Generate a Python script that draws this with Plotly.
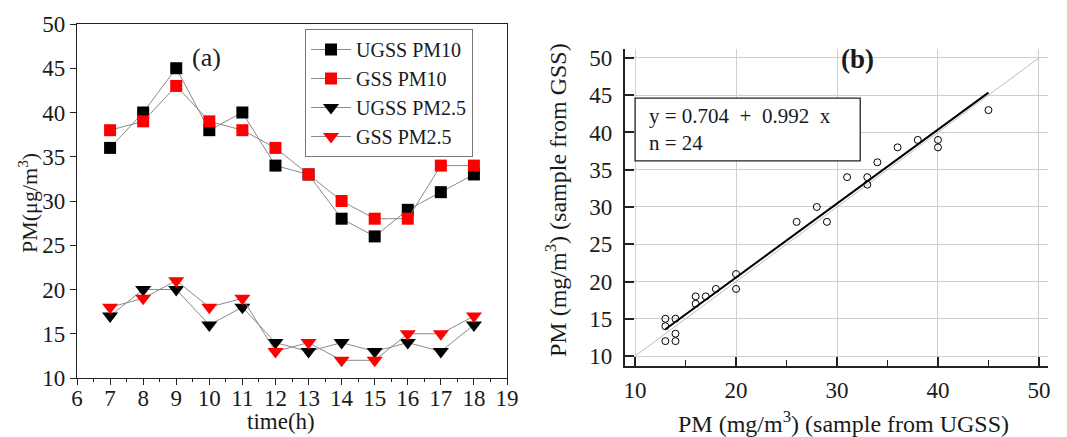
import plotly.graph_objects as go

# ---------------- data ----------------
hours = [7, 8, 9, 10, 11, 12, 13, 14, 15, 16, 17, 18]
ugss_pm10 = [36, 40, 45, 38, 40, 34, 33, 28, 26, 29, 31, 33]
gss_pm10 = [38, 39, 43, 39, 38, 36, 33, 30, 28, 28, 34, 34]
ugss_pm25 = [17, 20, 20, 16, 18, 14, 13, 14, 13, 14, 13, 16]
gss_pm25 = [18, 19, 21, 18, 19, 13, 14, 12, 12, 15, 15, 17]

fit_intercept = 0.704
fit_slope = 0.992
n_samples = 24

FONT = "Liberation Serif"
TXT = "#1a1a1a"
W, H = 1067, 437

fig = go.Figure()

# ---------------- panel (a) ----------------
series_a = [
    ("UGSS PM10", ugss_pm10, "square", "black", 12),
    ("GSS PM10", gss_pm10, "square", "red", 12),
    ("UGSS PM2.5", ugss_pm25, "triangle-down", "black", 14),
    ("GSS PM2.5", gss_pm25, "triangle-down", "red", 14),
]
for name, vals, sym, col, sz in series_a:
    fig.add_trace(go.Scatter(
        x=hours, y=vals, name=name, mode="lines+markers",
        line=dict(color="#8a8a8a", width=1),
        marker=dict(symbol=sym, color=col, size=sz, line=dict(width=0)),
        xaxis="x", yaxis="y", showlegend=True,
    ))

# ---------------- panel (b) ----------------
ugss_all = ugss_pm10 + ugss_pm25
gss_all = gss_pm10 + gss_pm25

fig.add_trace(go.Scatter(
    x=[10, 50], y=[10, 50], mode="lines",
    line=dict(color="#bdbdbd", width=1),
    xaxis="x2", yaxis="y2", showlegend=False, hoverinfo="skip",
))
xfit = [min(ugss_all), max(ugss_all)]
yfit = [fit_intercept + fit_slope * v for v in xfit]
fig.add_trace(go.Scatter(
    x=xfit, y=yfit, mode="lines",
    line=dict(color="black", width=2),
    xaxis="x2", yaxis="y2", showlegend=False,
))
fig.add_trace(go.Scatter(
    x=ugss_all, y=gss_all, mode="markers",
    marker=dict(symbol="circle-open", color="black", size=7, line=dict(width=1, color="black")),
    xaxis="x2", yaxis="y2", showlegend=False,
))

tickfont = dict(family=FONT, size=23, color=TXT)

fig.update_layout(
    width=W, height=H,
    margin=dict(l=0, r=0, t=0, b=0, autoexpand=False),
    paper_bgcolor="white", plot_bgcolor="white",
    font=dict(family=FONT, size=23, color=TXT),
    xaxis=dict(
        domain=[77 / W, 507 / W], range=[6, 19], dtick=1, tick0=6,
        showgrid=False, zeroline=False, automargin=False,
        showline=True, linecolor="#222", linewidth=1.3, mirror=True,
        ticks="outside", ticklen=6, tickwidth=1.3, tickcolor="#222",
        minor=dict(ticks="outside", ticklen=3, dtick=0.5, tickcolor="#222", tickwidth=1),
        tickfont=tickfont, ticklabelstandoff=-7,
        anchor="y",
    ),
    yaxis=dict(
        domain=[1 - 378 / H, 1 - 24 / H], range=[10, 50], dtick=5,
        showgrid=False, zeroline=False, automargin=False,
        showline=True, linecolor="#222", linewidth=1.3, mirror=True,
        ticks="outside", ticklen=6, tickwidth=1.3, tickcolor="#222",
        tickfont=tickfont,
        anchor="x",
    ),
    xaxis2=dict(
        domain=[625 / W, 1048 / W], range=[9.0, 50.9], tickvals=[10, 20, 30, 40, 50],
        showgrid=True, gridcolor="#cfcfcf", gridwidth=1, zeroline=False, automargin=False,
        showline=True, linecolor="#222", linewidth=2.2, mirror=False,
        ticks="inside", ticklen=9, tickwidth=1.5, tickcolor="#222",
        minor=dict(ticks="inside", ticklen=6, tickvals=[15, 25, 35, 45], tickcolor="#222", tickwidth=1.2, showgrid=False),
        tickfont=tickfont, ticklabelstandoff=2,
        anchor="y2",
    ),
    yaxis2=dict(
        domain=[1 - 366 / H, 1 - 49 / H], range=[8.66, 51.2], dtick=5, tick0=10,
        showgrid=True, gridcolor="#cfcfcf", gridwidth=1, zeroline=False, automargin=False,
        showline=True, linecolor="#222", linewidth=2.2, mirror=False,
        ticks="inside", ticklen=9, tickwidth=1.5, tickcolor="#222",
        tickfont=tickfont, ticklabelstandoff=6,
        anchor="x2",
    ),
    legend=dict(
        x=305 / W, y=1 - 29 / H, xanchor="left", yanchor="top",
        bgcolor="white", bordercolor="#777", borderwidth=1,
        font=dict(family=FONT, size=20, color=TXT),
        tracegroupgap=0, itemwidth=40,
    ),
    showlegend=True,
)

# axis titles (paper-positioned)
fig.add_annotation(text="time(h)", x=281 / W, y=1 - 421 / H, xref="paper", yref="paper",
                   showarrow=False, xanchor="center", yanchor="middle",
                   font=dict(family=FONT, size=23, color=TXT))
fig.add_annotation(text="PM(μg/m<sup>3</sup>)", x=28 / W, y=1 - 203 / H, xref="paper", yref="paper",
                   showarrow=False, xanchor="center", yanchor="middle", textangle=-90,
                   font=dict(family=FONT, size=22, color=TXT))
fig.add_annotation(text="PM (mg/m<sup>3</sup>) (sample from UGSS)", x=843 / W, y=1 - 422 / H,
                   xref="paper", yref="paper", showarrow=False, xanchor="center", yanchor="middle",
                   font=dict(family=FONT, size=24, color=TXT))
fig.add_annotation(text="PM (mg/m<sup>3</sup>) (sample from GSS)", x=556 / W, y=1 - 200 / H,
                   xref="paper", yref="paper", showarrow=False, xanchor="center", yanchor="middle",
                   textangle=-90, font=dict(family=FONT, size=24, color=TXT))

# panel labels
fig.add_annotation(text="(a)", x=9.9, y=46.2, xref="x", yref="y", showarrow=False,
                   font=dict(family=FONT, size=26, color=TXT))
fig.add_annotation(text="<b>(b)</b>", x=32.0, y=49.8, xref="x2", yref="y2", showarrow=False,
                   font=dict(family=FONT, size=27, color=TXT))

# equation box
fig.add_shape(type="rect", x0=10.0, x1=32.3, y0=36.2, y1=44.6, xref="x2", yref="y2",
              line=dict(color="#222", width=1.3), fillcolor="white", layer="above")
fig.add_annotation(
    text=f"y = {fit_intercept}  +  {fit_slope}  x<br>n = {n_samples}",
    x=11.2, y=40.4, xref="x2", yref="y2", xanchor="left", yanchor="middle",
    align="left", showarrow=False,
    font=dict(family=FONT, size=21, color=TXT),
)

fig.write_html("out.html", config={"displayModeBar": False},
               post_script="document.body.style.margin='0';")
